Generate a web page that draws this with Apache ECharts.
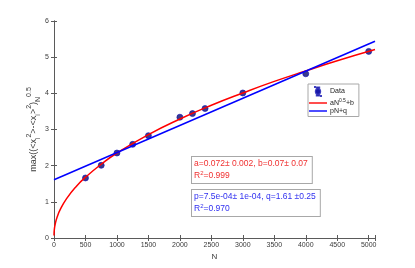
<!DOCTYPE html>
<html>
<head>
<meta charset="utf-8">
<script src="https://cdn.jsdelivr.net/npm/echarts@6/dist/echarts.min.js"></script>
<style>
html,body{margin:0;padding:0;background:#fff;}
#chart{width:415px;height:268px;}
</style>
</head>
<body>
<div id="chart"></div>
<script>
// Data points (N, max std)
var dataN = [500, 750, 1000, 1250, 1500, 2000, 2200, 2400, 3000, 4000, 5000];
var dataY = [1.66, 2.01, 2.35, 2.59, 2.83, 3.34, 3.44, 3.58, 4.01, 4.54, 5.16];
// Red fit curve aN^0.5+b
var fitN = [0, 5, 20, 50, 100, 200, 350, 500, 750, 1000, 1500, 2000, 2500, 3000, 3500, 4000, 4500, 5100];
var fitY = [0.07, 0.23, 0.39, 0.58, 0.79, 1.09, 1.42, 1.68, 2.04, 2.35, 2.86, 3.29, 3.67, 4.01, 4.33, 4.62, 4.90, 5.21];
// Blue linear fit pN+q
var linN = [0, 5100];
var linY = [1.61, 5.44];
// Axis ticks
var xTicks = [0, 500, 1000, 1500, 2000, 2500, 3000, 3500, 4000, 4500, 5000];
var yTicks = [0, 1, 2, 3, 4, 5, 6];

function pairs(xs, ys) { return xs.map(function (x, i) { return [x, ys[i]]; }); }

var FONT = 'Liberation Sans, Arial, Helvetica, sans-serif';
var axisColor = '#5a5a5a';
var labelColor = '#3a3a3a';

var chart = echarts.init(document.getElementById('chart'), null, {renderer: 'canvas'});

var commonX = {
  type: 'value', min: 0, max: 5100, interval: 500,
  axisLine: {show: true, lineStyle: {color: axisColor, width: 1}},
  axisTick: {show: true, inside: true, length: 3, lineStyle: {color: axisColor}},
  splitLine: {show: false}
};
var commonY = {
  type: 'value', min: 0, max: 6, interval: 1,
  axisLine: {show: true, lineStyle: {color: axisColor, width: 1}},
  axisTick: {show: true, inside: true, length: 3, lineStyle: {color: axisColor}},
  splitLine: {show: false}
};

var option = {
  animation: false,
  backgroundColor: '#fff',
  grid: {left: 54, right: 40, top: 21, bottom: 30, containLabel: false},
  xAxis: [
    Object.assign({}, commonX, {
      position: 'bottom',
      name: 'N', nameLocation: 'middle', nameGap: 15, nameMoveOverlap: false,
      nameTextStyle: {fontFamily: FONT, fontSize: 8, color: labelColor},
      axisLabel: {
        fontFamily: FONT, fontSize: 7, color: labelColor, margin: 4,
        formatter: function (v) { return xTicks.indexOf(v) >= 0 ? String(v) : ''; }
      }
    }),
    Object.assign({}, commonX, {position: 'top', axisLabel: {show: false}})
  ],
  yAxis: [
    Object.assign({}, commonY, {
      position: 'left',
      name: '{n|max((<x}{sb|i}{sp|2}{n|>-<x}{sb|i}{n|>}{sp|2}{n|)}{sb|N}{sp|0.5}',
      nameLocation: 'middle', nameGap: 12, nameRotate: 90, nameMoveOverlap: false,
      nameTextStyle: {
        fontFamily: FONT, fontSize: 9, color: labelColor,
        rich: {
          n: {fontFamily: FONT, fontSize: 9, color: labelColor, lineHeight: 16, verticalAlign: 'middle'},
          sp: {fontFamily: FONT, fontSize: 7, color: labelColor, lineHeight: 16, verticalAlign: 'top'},
          sb: {fontFamily: FONT, fontSize: 7, color: labelColor, lineHeight: 16, verticalAlign: 'bottom'}
        }
      },
      axisLabel: {
        fontFamily: FONT, fontSize: 7, color: labelColor, margin: 5,
        formatter: function (v) { return yTicks.indexOf(v) >= 0 ? String(v) : ''; }
      }
    }),
    Object.assign({}, commonY, {position: 'right', axisLabel: {show: false}})
  ],
  legend: {
    orient: 'vertical', left: 308, top: 84,
    padding: [2, 5, 2, 1],
    itemGap: 1, itemWidth: 18, itemHeight: 9,
    borderColor: '#a8a8a8', borderWidth: 1, backgroundColor: '#fff',
    selectedMode: false,
    textStyle: {
      fontFamily: FONT, fontSize: 7, color: '#222', padding: [0, 0, 0, -2],
      rich: {
        n: {fontFamily: FONT, fontSize: 7, color: '#222', lineHeight: 10, verticalAlign: 'middle'},
        sp: {fontFamily: FONT, fontSize: 5, color: '#222', lineHeight: 10, verticalAlign: 'top'}
      }
    },
    formatter: function (name) {
      if (name === 'aN^0.5+b') return '{n|aN}{sp|0.5}{n|+b}';
      return '{n|' + name + '}';
    },
    data: [
      {name: 'Data', icon: 'path://M3,2.3 A2.2,2.2 0 1,1 3,6.7 A2.2,2.2 0 1,1 3,2.3 Z M2.7,0.5 H3.3 V8.5 H2.7 Z M1.8,0.5 H4.2 V1.1 H1.8 Z M1.8,7.9 H4.2 V8.5 H1.8 Z M0,0 H0.01 V0.01 H0 Z M5.99,8.99 H6 V9 H5.99 Z'},
      {name: 'aN^0.5+b', icon: 'path://M0,0 H18 V1.4 H0 Z'},
      {name: 'pN+q', icon: 'path://M0,0 H18 V1.4 H0 Z'}
    ]
  },
  series: [
    {
      name: 'Data', type: 'scatter', xAxisIndex: 0, yAxisIndex: 0,
      data: pairs(dataN, dataY),
      symbol: 'circle', symbolSize: 6,
      itemStyle: {color: '#0a0a6e', borderColor: '#1010b0', borderWidth: 0.8},
      z: 2
    },
    {
      name: 'aN^0.5+b', type: 'line', xAxisIndex: 0, yAxisIndex: 0,
      data: pairs(fitN, fitY),
      smooth: true, showSymbol: false, symbol: 'none',
      lineStyle: {color: '#ff0000', width: 1.5},
      itemStyle: {color: '#ff0000'},
      z: 3
    },
    {
      name: 'pN+q', type: 'line', xAxisIndex: 0, yAxisIndex: 0,
      data: pairs(linN, linY),
      showSymbol: false, symbol: 'none',
      lineStyle: {color: '#0000ff', width: 1.5},
      itemStyle: {color: '#0000ff'},
      z: 3
    }
  ],
  graphic: [
    {
      type: 'text', left: 191, top: 156, z: 10,
      style: {
        text: '{t|a=0.072± 0.002, b=0.07± 0.07}\n{t|R}{s|2}{t|=0.999}',
        fill: '#f03030',
        backgroundColor: '#fff', borderColor: '#a8a8a8', borderWidth: 1,
        padding: [1, 4, 1, 2],
        rich: {
          t: {fontFamily: FONT, fontSize: 8.5, fill: '#f03030', lineHeight: 12, verticalAlign: 'middle'},
          s: {fontFamily: FONT, fontSize: 6, fill: '#f03030', lineHeight: 12, verticalAlign: 'top'}
        }
      }
    },
    {
      type: 'text', left: 191, top: 189, z: 10,
      style: {
        text: '{t|p=7.5e-04± 1e-04, q=1.61 ±0.25}\n{t|R}{s|2}{t|=0.970}',
        fill: '#3030f0',
        backgroundColor: '#fff', borderColor: '#a8a8a8', borderWidth: 1,
        padding: [1, 4, 1, 2],
        rich: {
          t: {fontFamily: FONT, fontSize: 8.5, fill: '#3030f0', lineHeight: 12, verticalAlign: 'middle'},
          s: {fontFamily: FONT, fontSize: 6, fill: '#3030f0', lineHeight: 12, verticalAlign: 'top'}
        }
      }
    }
  ]
};
chart.setOption(option);
</script>
</body>
</html>
